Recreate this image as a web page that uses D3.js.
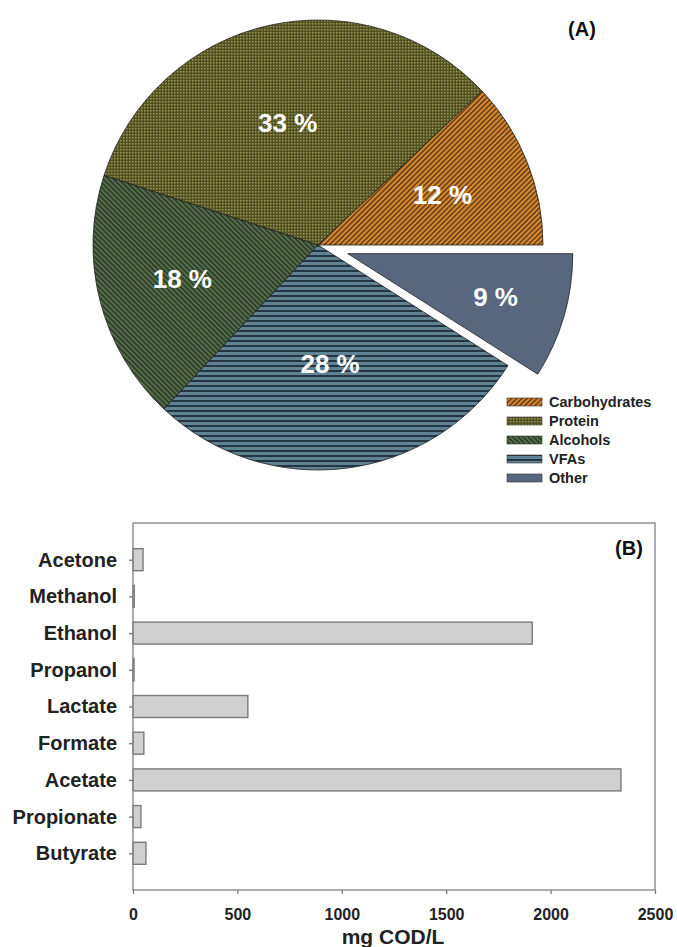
<!DOCTYPE html>
<html><head><meta charset="utf-8">
<script src="https://cdn.jsdelivr.net/npm/d3@7"></script>
<style>
html,body{margin:0;padding:0;background:#fff;}
text{font-family:"Liberation Sans",Arial,sans-serif;font-weight:bold;}
</style></head>
<body>
<svg id="c" width="677" height="947"></svg>
<script>
// ---- Data ----
const pieLabels = ["Carbohydrates", "Protein", "Alcohols", "VFAs", "Other"];
const pieValues = [12, 33, 18, 28, 9];
const categories = ["Acetone", "Methanol", "Ethanol", "Propanol", "Lactate", "Formate", "Acetate", "Propionate", "Butyrate"];
const values = [48, 6, 1912, 5, 550, 52, 2337, 38, 62];
const xTicks = [0, 500, 1000, 1500, 2000, 2500];

const svg = d3.select("#c");
const defs = svg.append("defs");

function stripes(id, base, dark, size, thick, rot) {
  const p = defs.append("pattern").attr("id", id).attr("patternUnits", "userSpaceOnUse")
    .attr("width", size).attr("height", size);
  if (rot) p.attr("patternTransform", "rotate(" + rot + ")");
  p.append("rect").attr("width", size).attr("height", size).attr("fill", base);
  p.append("rect").attr("width", size).attr("height", thick).attr("fill", dark);
}
stripes("pCarb", "#d68a34", "#643a12", 3.6, 1.5, -45);
stripes("pAlc", "#566e4b", "#2a3a25", 3.6, 1.6, 45);
stripes("pVfa", "#5f8392", "#263542", 5, 2, 0);
(function(){
  const p = defs.append("pattern").attr("id", "pProt").attr("patternUnits", "userSpaceOnUse")
    .attr("width", 3).attr("height", 3);
  p.append("rect").attr("width", 3).attr("height", 3).attr("fill", "#525122");
  p.append("rect").attr("width", 1.5).attr("height", 1.5).attr("fill", "#9c9752");
})();
const fills = ["url(#pCarb)", "url(#pProt)", "url(#pAlc)", "url(#pVfa)", "#59677e"];

// ---- Pie (A) ----
const cx = 318, cy = 245, R = 225;
const explode = [0, 0, 0, 0, 31];
const labelR = [137, 125, 137, 120, 157];
const pie = d3.pie().sort(null).startAngle(Math.PI / 2).endAngle(Math.PI / 2 - 2 * Math.PI);
const arcs = pie(pieValues);
const arc = d3.arc().innerRadius(0).outerRadius(R);
const gPie = svg.append("g").attr("transform", `translate(${cx},${cy})`);
arcs.forEach((a, i) => {
  const mid = (a.startAngle + a.endAngle) / 2;
  const dx = Math.sin(mid) * explode[i], dy = -Math.cos(mid) * explode[i];
  const g = gPie.append("g").attr("transform", `translate(${dx},${dy})`);
  g.append("path").attr("d", arc(a)).attr("fill", fills[i])
    .attr("stroke", "#1e1e1e").attr("stroke-width", 0.8);
  g.append("text").attr("x", Math.sin(mid) * labelR[i] - 3).attr("y", -Math.cos(mid) * labelR[i])
    .attr("text-anchor", "middle").attr("dominant-baseline", "central")
    .attr("fill", "#fff").attr("font-size", 26).text(pieValues[i] + " %");
});

// legend
const lg = svg.append("g").attr("transform", "translate(507,402)");
pieLabels.forEach((l, i) => {
  const r = lg.append("g").attr("transform", `translate(0,${i * 19})`);
  r.append("rect").attr("x", 0).attr("y", -4).attr("width", 35).attr("height", 8)
    .attr("fill", fills[i]).attr("stroke", "#333").attr("stroke-width", 0.6);
  r.append("text").attr("x", 42).attr("y", 0).attr("dominant-baseline", "central")
    .attr("font-size", 14.5).attr("fill", "#222").text(l);
});
svg.append("text").attr("x", 582).attr("y", 36).attr("text-anchor", "middle")
  .attr("font-size", 20).attr("fill", "#111").text("(A)");

// ---- Bar chart (B) ----
const L = 133, Rr = 655, T = 523, B = 890;
const x = d3.scaleLinear().domain([0, 2500]).range([L, Rr]);
const y = d3.scalePoint().domain(categories).range([T, B]).padding(1);
const barH = 22;
const gb = svg.append("g");
gb.selectAll("rect.bar").data(categories).enter().append("rect").attr("class", "bar")
  .attr("x", x(0)).attr("y", d => y(d) - barH / 2)
  .attr("width", (d, i) => x(values[i]) - x(0)).attr("height", barH)
  .attr("fill", "#d0d0d0").attr("stroke", "#7a7a7a").attr("stroke-width", 1.4);

// frame
gb.append("rect").attr("x", L).attr("y", T).attr("width", Rr - L).attr("height", B - T)
  .attr("fill", "none").attr("stroke", "#8a8a8a").attr("stroke-width", 1.4);

const xAxis = d3.axisBottom(x).tickValues(xTicks).tickSize(4).tickPadding(15).tickFormat(d3.format("d"));
const gx = gb.append("g").attr("transform", `translate(0,${B})`).call(xAxis);
gx.select(".domain").remove();
gx.selectAll("line").attr("stroke", "#777").attr("stroke-width", 1.3);
gx.selectAll("text").attr("font-size", 16).attr("fill", "#222")
  .style("font-family", '"Liberation Sans",Arial,sans-serif').style("font-weight", "bold");

const yAxis = d3.axisLeft(y).tickSize(4).tickPadding(12);
const gy = gb.append("g").attr("transform", `translate(${L},0)`).call(yAxis);
gy.select(".domain").remove();
gy.selectAll("line").attr("stroke", "#777").attr("stroke-width", 1.3);
gy.selectAll("text").attr("font-size", 20).attr("fill", "#222")
  .style("font-family", '"Liberation Sans",Arial,sans-serif').style("font-weight", "bold");

svg.append("text").attr("x", 393).attr("y", 944).attr("text-anchor", "middle")
  .attr("font-size", 21).attr("fill", "#222").text("mg COD/L");
svg.append("text").attr("x", 629).attr("y", 555).attr("text-anchor", "middle")
  .attr("font-size", 20).attr("fill", "#111").text("(B)");
</script>
</body></html>
